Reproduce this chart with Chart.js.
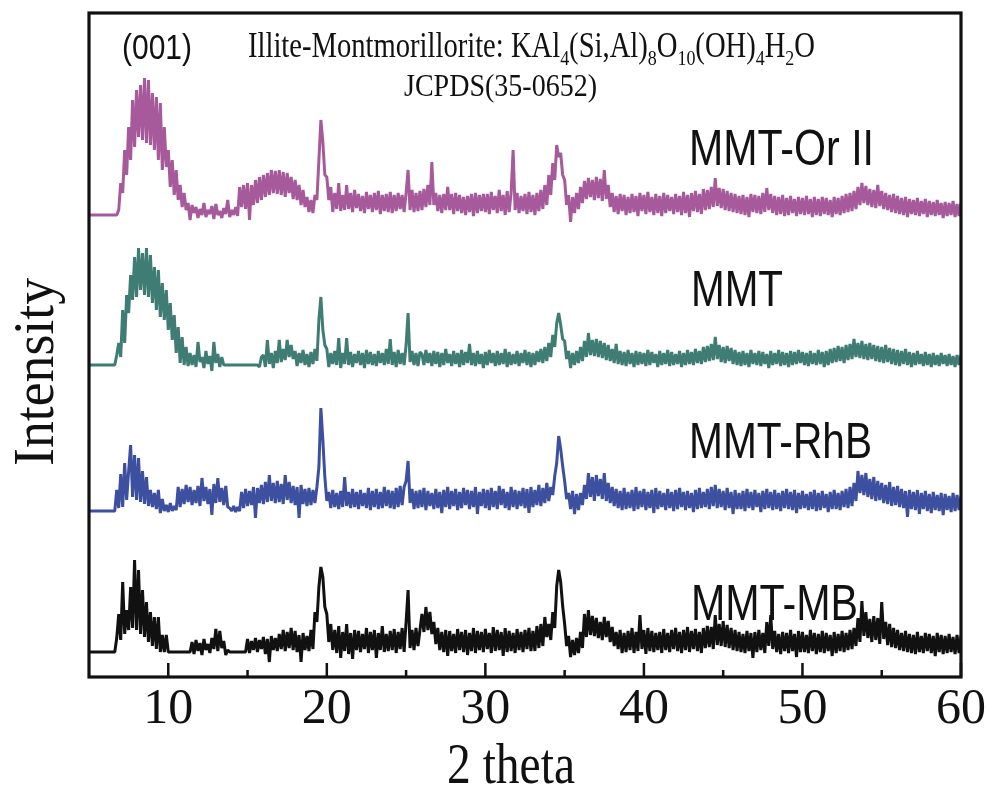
<!DOCTYPE html>
<html><head><meta charset="utf-8">
<script src="https://cdn.jsdelivr.net/npm/chart.js@4/dist/chart.umd.min.js"></script>
<style>html,body{margin:0;padding:0;background:#fff}#wrap{width:989px;height:790px;position:relative}</style>
</head><body><div id="wrap"><canvas id="c"></canvas></div>
<script>
// ---- sampling grid (2θ, degrees) ----
const START = 5, STEP = 0.125;
// ---- intensities, relative to each trace's own baseline ----
const mmtOrII = [
0,0,0,0,0,0,0,0, 0,0,0,0,0,0,0,5,
32,22,65,40,88,55,115,68, 125,78,130,75,137,72,135,70, 122,65,118,55,112,45,88,48,
65,28,55,20,45,15,30,8, 22,5,12,-5,10,2,8,-3, 6,0,12,-2,5,1,9,-4, 11,0,4,-3,7,1,15,-2,
5,0,8,-1,28,8,30,6, 32,-5,30,10,35,12,38,15, 40,18,42,20,45,22,44,21, 45,20,43,18,42,22,38,16,
35,15,30,10,25,8,18,3, 15,2,20,15,55,95,73,40, 38,15,28,3,22,6,32,4, 20,5,30,6,22,3,25,7,
21,4,19,2,23,6,20,3, 22,5,24,1,20,4,21,3, 23,2,20,4,22,6,20,3, 22,45,5,25,3,22,4,24,
5,26,8,30,10,53,10,22, 4,20,2,21,5,28,5,21, 1,22,4,20,2,18,0,19, 3,21,-1,22,2,20,4,21,
3,21,1,23,5,19,2,25, 4,20,0,24,3,22,65,5, 22,2,19,4,21,1,23,3, 20,0,22,4,25,6,30,10,
40,20,52,35,70,58,62,40, 35,10,20,-7,18,2,22,6, 28,12,34,16,37,18,35,15, 38,17,36,14,45,16,30,8,
22,3,19,1,21,4,20,0, 18,2,21,3,19,-1,22,4, 20,1,23,3,18,0,21,2, 19,-1,22,2,20,4,18,1,
21,3,19,0,23,2,20,-2, 22,4,24,3,21,1,26,5, 25,6,28,8,37,9,27,7, 26,5,24,4,22,3,21,2,
19,1,20,0,18,-2,21,3, 20,2,19,1,22,3,27,5, 21,2,19,0,18,1,20,-1, 17,0,19,2,16,-1,18,1,
17,0,19,1,16,-2,18,0, 16,-1,18,1,17,0,15,-2, 18,1,17,0,19,2,21,3, 22,4,24,6,28,10,32,12,
29,10,26,8,25,7,30,9, 24,6,22,5,20,3,21,2, 19,1,17,0,18,-2,16,1, 15,0,17,-1,14,1,16,-2,
14,0,13,-1,15,0,12,-3, 13,-1,12,0,14,-2,11,-1, 12];
const mmt = [
0,0,0,0,0,0,0,0, 0,0,0,0,0,0,10,22,
8,55,22,70,52,90,65,108, 68,117,75,112,70,117,68,110, 62,98,55,95,48,82,45,75,
35,62,25,50,12,38,2,28, 0,18,-1,12,0,10,-2,23, 3,8,-3,14,1,9,-6,23, 2,11,-2,8,0,0,0,0,
0,0,0,0,0,0,0,0, 0,0,0,0,0,0,-2,8, 10,-2,25,1,12,-3,14,2, 25,3,16,5,25,8,20,6,
14,-1,12,2,15,0,11,-2, 13,1,16,4,45,68,35,20, 16,-2,12,1,14,0,27,-3, 12,1,27,0,13,-2,11,2,
14,0,12,-3,15,1,13,0, 11,-1,14,2,12,0,16,1, 26,0,13,-2,15,1,12,0, 20,52,3,14,0,12,-1,13,
11,0,15,2,12,-1,14,1, 13,-2,12,0,16,2,11,-1, 14,1,12,-2,15,0,13,2, 21,0,12,-1,14,1,11,-3,
13,0,15,2,12,-1,14,0, 12,1,16,-2,13,0,11,1, 14,-1,12,2,15,0,13,-2, 12,0,14,3,16,2,18,4,
22,8,30,18,42,52,40,26, 24,6,14,-3,12,0,14,2, 18,4,24,8,32,10,25,9, 26,8,24,7,22,5,20,4,
16,2,21,1,14,0,13,-1, 15,1,12,-2,14,0,13,1, 12,-1,15,0,13,2,11,-2, 14,0,12,1,15,-1,13,0,
11,1,14,-2,12,0,15,1, 13,0,16,2,14,1,18,3, 19,4,21,5,28,6,20,3, 18,2,19,4,17,1,15,0,
13,-1,14,0,12,-2,15,1, 12,0,14,-1,13,1,11,-3, 14,0,12,1,15,-1,13,0, 12,-2,14,0,13,1,15,2,
13,0,12,-1,14,1,12,0, 15,1,13,-2,14,0,16,2, 17,3,19,4,18,2,20,5, 21,6,26,8,22,7,24,6,
21,5,22,6,20,4,19,3, 18,2,20,3,17,1,16,0, 15,-1,14,1,16,0,13,-2, 12,0,14,1,11,-1,13,0,
11,-2,12,0,10,-1,12,1, 10,-1,11,0,9,-2,10,0, 10];
const mmtRhB = [
0,0,0,0,0,0,0,0, 0,0,0,0,0,0,21,3,
37,4,48,11,40,66,14,56, 11,53,9,40,7,34,5,21, 4,18,2,21,-2,12,0,6,
-1,8,0,5,1,24,4,22, 7,26,9,24,6,21,8,25, 5,33,10,24,7,22,-4,27, 8,33,9,23,6,25,4,3,
0,5,-1,4,0,19,3,22, 5,20,6,24,-7,23,8,26, 7,29,9,36,10,28,8,30, 9,27,7,36,11,29,8,25,
6,24,-7,26,7,22,5,23, 6,21,8,24,44,103,71,34, 10,19,3,21,4,18,2,20, 4,34,5,19,3,22,4,19,
2,21,5,18,3,23,1,20, 4,22,2,19,3,24,5,21, 3,20,2,23,4,25,6,24, 30,50,8,22,2,20,3,21,
4,23,1,20,5,18,2,22, 3,19,-2,21,4,24,2,20, 5,22,1,19,3,23,6,21, 2,20,4,24,-3,19,5,22,
3,21,1,23,4,20,2,25, 6,22,3,19,1,24,4,21, 2,20,5,23,3,22,-2,24, 4,21,6,26,5,23,8,28,
10,24,16,35,48,75,62,45, 30,12,18,2,20,-3,17,1, 18,6,26,12,38,14,34,10, 36,15,32,12,38,10,28,8,
24,5,22,3,20,1,23,2, 19,3,21,0,24,2,20,4, 22,1,19,3,21,-2,23,2, 20,4,18,1,22,3,19,0,
21,2,23,4,19,1,20,3, 18,-1,21,2,23,3,19,4, 22,2,24,5,26,3,22,4, 20,1,23,3,19,-3,21,2,
18,2,20,0,22,3,19,1, 21,4,18,-1,20,2,22,3, 19,1,21,2,18,0,20,3, 22,2,19,1,21,-2,18,2,
20,3,17,1,19,2,21,0, 18,1,20,3,17,-1,19,2, 21,2,18,1,20,4,22,3, 24,5,28,10,40,18,36,16,
38,14,32,12,34,10,30,11, 28,8,26,7,29,5,24,6, 25,4,22,3,20,-6,21,2, 19,1,21,-3,18,2,20,0,
17,-2,19,1,16,0,18,-4, 17,1,15,-1,18,0,16,1, 15];
const mmtMB = [
0,0,0,0,0,0,0,0, 0,0,0,0,0,0,14,38,
12,70,18,42,22,65,24,92, 22,82,18,62,15,50,10,40, 6,35,3,35,0,17,0,17,
0,0,0,0,0,0,0,0, 0,0,0,0,10,-2,12,1, 9,-3,13,2,8,-1,14,3, 23,1,21,4,11,-3,2,0,
0,0,0,0,0,0,0,0, 13,-1,11,2,14,0,12,3, 15,-2,13,-10,16,2,14,1, 18,3,22,1,20,4,24,2,
21,0,17,-10,19,2,16,1, 22,3,40,30,65,85,75,45, 38,10,28,2,22,-1,26,-6, 20,1,28,-2,19,-7,22,2,
21,0,18,3,24,-1,20,2, 22,-6,19,2,26,0,18,1, 21,2,23,-1,20,3,24,0, 30,62,4,22,2,24,6,22,
38,20,45,22,40,18,30,8, 24,2,20,0,22,-4,21,1, 18,-1,23,2,20,0,22,-3, 19,1,24,-1,21,2,20,0,
23,3,19,-1,25,1,22,2, 20,-4,24,0,21,1,19,-1, 23,2,20,0,22,3,24,1, 21,1,26,4,28,6,35,15,
28,12,40,24,66,82,70,46, 28,6,16,-5,12,-3,14,-1, 20,4,38,15,42,17,36,16, 34,14,30,12,35,15,31,10,
25,6,20,3,22,-1,19,0, 21,2,24,-1,20,1,37,3, 22,-2,24,1,21,0,19,2, 20,-1,23,2,19,0,22,3,
24,1,20,-1,22,2,25,0, 21,3,23,1,20,-1,24,4, 26,5,25,3,37,7,28,6, 31,5,27,4,24,2,22,1,
20,0,18,-1,21,1,19,-6, 20,0,22,2,19,-1,30,6, 37,3,21,0,18,-2,20,1, 19,-1,22,1,18,-5,21,0,
20,0,17,-1,22,1,19,-2, 18,0,21,-1,19,1,17,-4, 20,-1,18,1,21,0,19,2, 22,3,24,6,34,10,51,16,
40,14,33,10,36,12,34,8, 50,13,30,7,28,5,24,4, 22,2,19,1,21,0,18,-1, 17,-2,20,0,16,-1,19,1,
18,-1,16,-4,19,0,17,-2, 16,-1,18,0,15,-2,17,-1, 16];
// vertical stacking offsets of the four traces
const offsetOrII = 462, offsetMMT = 312, offsetRhB = 166, offsetMB = 25;
const seriesNames = ['MMT-Or II', 'MMT', 'MMT-RhB', 'MMT-MB'];
const xMajorTicks = [10, 20, 30, 40, 50, 60];
const xMinorTicks = [15, 25, 35, 45, 55];
const yRange = [0, 664];

const SERIF = "'Liberation Serif','Times New Roman',serif";
const SANS = "'Liberation Sans',Arial,sans-serif";

function toPoints(arr, off) { return arr.map((v, i) => ({x: START + i * STEP, y: off + v})); }
function ds(arr, off, color) {
  return {data: toPoints(arr, off), borderColor: color, borderWidth: 3, pointRadius: 0,
    tension: 0, borderJoinStyle: 'bevel', fill: false};
}

function fitText(ctx, text, x, y, size, family, width, align) {
  ctx.font = size + 'px ' + family;
  const w = ctx.measureText(text).width;
  const sx = width ? width / w : 1;
  ctx.save(); ctx.translate(x, y); ctx.scale(sx, 1);
  ctx.textAlign = 'left'; ctx.textBaseline = 'alphabetic';
  ctx.fillText(text, align === 'center' ? -w / 2 : 0, 0);
  ctx.restore();
}

const decor = {
  id: 'decor',
  afterDraw(chart) {
    const {ctx, chartArea: a, scales: {x}} = chart;
    ctx.save();
    ctx.strokeStyle = '#111'; ctx.fillStyle = '#111';
    ctx.lineWidth = 2.5;
    ctx.beginPath();
    for (const v of xMajorTicks) { const p = x.getPixelForValue(v); ctx.moveTo(p, a.bottom); ctx.lineTo(p, a.bottom - 14); }
    for (const v of xMinorTicks) { const p = x.getPixelForValue(v); ctx.moveTo(p, a.bottom); ctx.lineTo(p, a.bottom - 7); }
    ctx.stroke();
    ctx.lineWidth = 3.2;
    ctx.strokeRect(a.left, a.top, a.right - a.left, a.bottom - a.top);

    fitText(ctx, '(001)', 122, 59, 35, SANS, 70);
    const segs = [['Illite-Montmorillorite: KAl',0],['4',1],['(Si,Al)',0],['8',1],['O',0],['10',1],['(OH)',0],['4',1],['H',0],['2',1],['O',0]];
    const fMain = '35px ' + SERIF, fSub = '22px ' + SERIF;
    let W = 0;
    for (const [t, s] of segs) { ctx.font = s ? fSub : fMain; W += ctx.measureText(t).width; }
    ctx.save(); ctx.translate(248, 57); ctx.scale(567 / W, 1);
    ctx.textBaseline = 'alphabetic'; ctx.textAlign = 'left';
    let cx = 0;
    for (const [t, s] of segs) { ctx.font = s ? fSub : fMain; ctx.fillText(t, cx, s ? 8 : 0); cx += ctx.measureText(t).width; }
    ctx.restore();
    fitText(ctx, 'JCPDS(35-0652)', 404, 96, 32, SERIF, 193);

    fitText(ctx, seriesNames[0], 689, 165, 50, SANS, 185);
    fitText(ctx, seriesNames[1], 691, 306, 50, SANS, 92);
    fitText(ctx, seriesNames[2], 689, 458, 50, SANS, 183);
    fitText(ctx, seriesNames[3], 691, 620, 50, SANS, 167);

    fitText(ctx, '2 theta', 447, 783, 58, SERIF, 128);
    ctx.font = '57px ' + SERIF;
    const wI = ctx.measureText('Intensity').width;
    ctx.save(); ctx.translate(53, 372); ctx.rotate(-Math.PI / 2); ctx.scale(188 / wI, 1);
    ctx.textAlign = 'left'; ctx.textBaseline = 'alphabetic';
    ctx.fillText('Intensity', -wI / 2, 0);
    ctx.restore();
    ctx.restore();
  }
};

new Chart(document.getElementById('c'), {
  type: 'line',
  data: {datasets: [
    ds(mmtOrII, offsetOrII, '#a65a9b'),
    ds(mmt, offsetMMT, '#3f7c73'),
    ds(mmtRhB, offsetRhB, '#3d4f9f'),
    ds(mmtMB, offsetMB, '#111111')
  ].map((d, i) => Object.assign(d, {label: seriesNames[i]}))},
  options: {
    responsive: true, maintainAspectRatio: false, animation: false,
    layout: {padding: {left: 89, right: 26, top: 13, bottom: 0}},
    plugins: {legend: {display: false}, tooltip: {enabled: false}},
    scales: {
      x: {type: 'linear', min: 5, max: 60,
        afterBuildTicks: s => { s.ticks = xMajorTicks.map(v => ({value: v})); },
        afterFit: s => { s.height = 113; },
        grid: {display: false, drawTicks: false}, border: {display: false},
        ticks: {autoSkip: false, maxRotation: 0, padding: 3, color: '#111',
          font: {family: SERIF, size: 50}}},
      y: {type: 'linear', min: yRange[0], max: yRange[1], display: false}
    }
  },
  plugins: [decor]
});
</script></body></html>
